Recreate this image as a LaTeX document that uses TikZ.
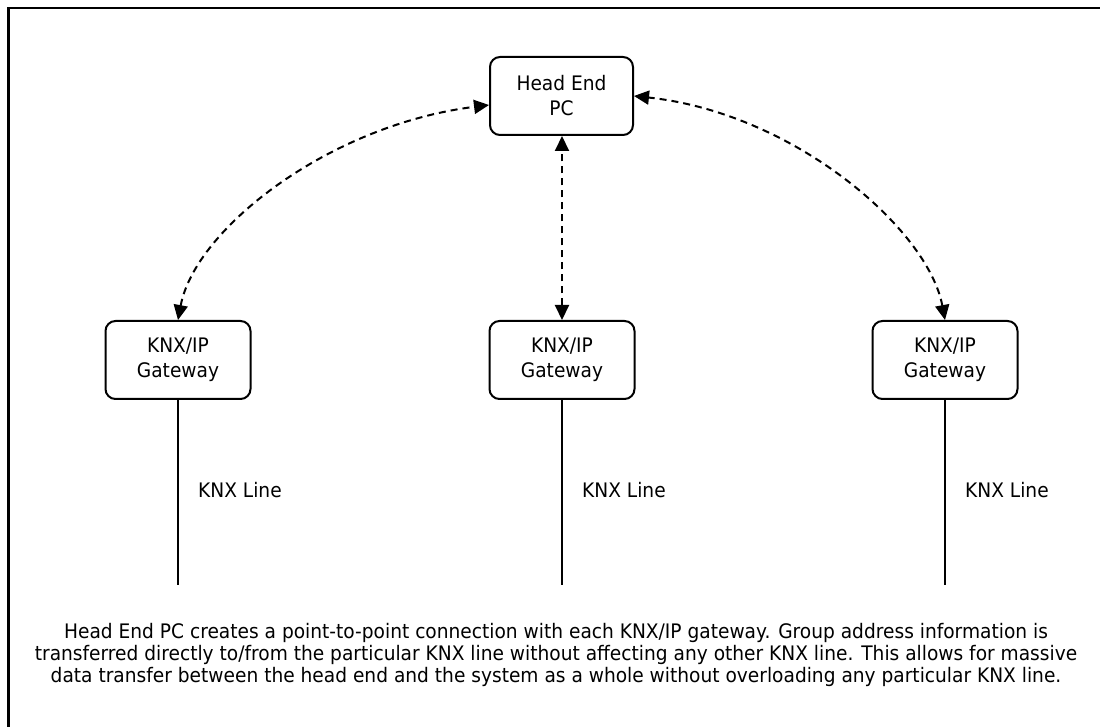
\documentclass[tikz,border=0pt]{standalone}
\usepackage{fontspec}
\setmainfont{DejaVu Sans}[FakeStretch=0.93]
\usetikzlibrary{arrows.meta}
\tikzset{
  unit/.style={draw, line width=2pt, rounded corners=10pt, align=center,
    minimum width=143pt, minimum height=78pt, inner sep=0pt,
    font=\fontsize{20}{25}\selectfont},
  link/.style={line width=2pt, dash pattern=on 7pt off 5pt,
    {Triangle[length=15pt,width=14pt]}-{Triangle[length=15pt,width=14pt]}},
  busline/.style={line width=2pt},
  lbl/.style={anchor=west, inner sep=0pt, font=\fontsize{20}{24}\selectfont},
  frameline/.style={line width=2.6pt}
}
\begin{document}
\begin{tikzpicture}[x=1pt, y=-1pt]
\useasboundingbox (0,0) rectangle (1109,727);

% frame
\coordinate (fl) at (8.5,727);
\coordinate (ftl) at (8.5,8);
\coordinate (ftr) at (1100,8);
\draw[frameline] (fl) -- (ftl) -- (ftr);

% head end and gateways
\node[unit] (head) at (561.5,96) {Head End\\PC};
\node[unit, minimum width=145pt] (gw1) at (178,360) {KNX/IP\\Gateway};
\node[unit, minimum width=145pt] (gw2) at (562,360) {KNX/IP\\Gateway};
\node[unit, minimum width=145pt] (gw3) at (945,360) {KNX/IP\\Gateway};

% KNX lines
\coordinate (e1) at (178,585);
\coordinate (e2) at (562,585);
\coordinate (e3) at (945,585);
\draw[busline] (gw1.south) -- (e1);
\draw[busline] (gw2.south) -- (e2);
\draw[busline] (gw3.south) -- (e3);
\node[lbl] (l1) at (198,490) {KNX Line};
\node[lbl] (l2) at (582,490) {KNX Line};
\node[lbl] (l3) at (965,490) {KNX Line};

% point-to-point connections
\draw[link] (gw1.north) .. controls +(17,-91) and +(-160,20) .. ([yshift=-9pt]head.west);
\draw[link] (gw2.north) -- (gw2.north |- head.south);
\draw[link] (gw3.north) .. controls +(-17,-91) and +(160,17) .. (head.east);

% caption
\node[align=center, inner sep=0pt, font=\fontsize{20}{22}\selectfont] (cap) at (556,655)
  {Head End PC creates a point-to-point connection with each KNX/IP gateway. Group address information is\\
   transferred directly to/from the particular KNX line without affecting any other KNX line. This allows for massive\\
   data transfer between the head end and the system as a whole without overloading any particular KNX line.};
\end{tikzpicture}
\end{document}
